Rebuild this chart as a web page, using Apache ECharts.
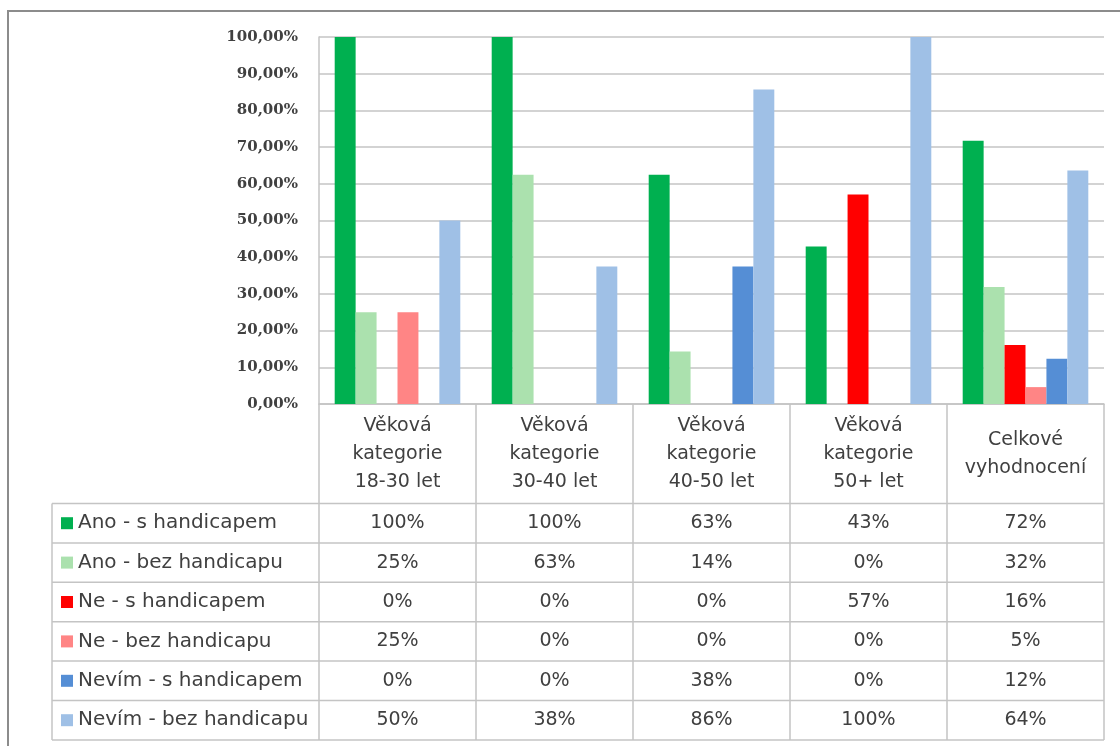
<!DOCTYPE html>
<html>
<head>
<meta charset="utf-8">
<script src="https://cdn.jsdelivr.net/npm/echarts@6/dist/echarts.min.js"></script>
<style>
  html, body { margin: 0; background: #fff; }
  #chart { width: 1120px; height: 746px; }
</style>
</head>
<body>
<div id="chart"></div>
<script>
// data
const categories = [
  "Věková\nkategorie\n18-30 let",
  "Věková\nkategorie\n30-40 let",
  "Věková\nkategorie\n40-50 let",
  "Věková\nkategorie\n50+ let",
  "Celkové\nvyhodnocení",
];
const seriesNames = [
  "Ano - s handicapem",
  "Ano - bez handicapu",
  "Ne - s handicapem",
  "Ne - bez handicapu",
  "Nevím - s handicapem",
  "Nevím - bez handicapu",
];
const anoS = [1.0, 1.0, 0.625, 0.429, 0.717];
const anoBez = [0.25, 0.625, 0.143, 0, 0.319];
const neS = [0, 0, 0, 0.571, 0.161];
const neBez = [0.25, 0, 0, 0, 0.046];
const nevimS = [0, 0, 0.375, 0, 0.123];
const nevimBez = [0.5, 0.375, 0.857, 1.0, 0.636];
const yTicks = [0, 0.1, 0.2, 0.3, 0.4, 0.5, 0.6, 0.7, 0.8, 0.9, 1.0];

const allSeries = [anoS, anoBez, neS, neBez, nevimS, nevimBez];
const colors = ["#00b050", "#abe1ae", "#ff0000", "#ff8585", "#558ed5", "#9fc0e6"];

// layout
const GRID_L = 319, GRID_R = 1104, GRID_T = 37, GRID_B = 404;
const TABLE_L = 52, ROW_TOP = 503.5, ROW_H = 39.4;
const lineColor = "#c4c4c4";
const textColor = "#404040";
const tableFont = "DejaVu Sans";

const chart = echarts.init(document.getElementById("chart"));

const pct = (v) => Math.round(v * 100) + "%";

// one extra x axis per table row, carrying the value labels
const rowAxes = allSeries.map((arr, i) => ({
  type: "category",
  gridIndex: 0,
  position: "bottom",
  offset: ROW_TOP + ROW_H * (i + 0.5) - GRID_B,
  data: arr.map(pct),
  axisLine: { show: false },
  axisTick: { show: false },
  axisLabel: {
    interval: 0,
    margin: 0,
    verticalAlign: "middle",
    fontFamily: tableFont,
    fontSize: 19,
    color: textColor,
  },
}));

const hLines = [];
for (let k = 0; k <= seriesNames.length; k++) {
  const y = ROW_TOP + k * ROW_H;
  hLines.push({
    type: "line",
    shape: { x1: TABLE_L, y1: y, x2: GRID_R, y2: y },
    style: { stroke: lineColor, lineWidth: 1.5 },
  });
}

chart.setOption({
  backgroundColor: "#fff",
  animation: false,
  color: colors,
  grid: {
    left: GRID_L,
    top: GRID_T,
    width: GRID_R - GRID_L,
    height: GRID_B - GRID_T,
    containLabel: false,
  },
  legend: {
    orient: "vertical",
    left: TABLE_L + 9,
    top: ROW_TOP,
    padding: 0,
    itemGap: 0,
    itemWidth: 12,
    itemHeight: 12,
    icon: "rect",
    selectedMode: false,
    data: seriesNames,
    textStyle: {
      fontFamily: tableFont,
      fontSize: 20,
      lineHeight: ROW_H,
      color: textColor,
    },
  },
  xAxis: [
    {
      type: "category",
      data: categories,
      axisLine: { lineStyle: { color: lineColor, width: 1.5 } },
      axisTick: {
        show: true,
        interval: 0,
        length: ROW_TOP + ROW_H * seriesNames.length - GRID_B,
        lineStyle: { color: lineColor, width: 1.5 },
      },
      axisLabel: {
        interval: 0,
        margin: 50,
        verticalAlign: "middle",
        lineHeight: 28,
        fontFamily: tableFont,
        fontSize: 19,
        color: textColor,
      },
    },
    ...rowAxes,
  ],
  yAxis: {
    type: "value",
    min: yTicks[0],
    max: yTicks[yTicks.length - 1],
    interval: 0.1,
    axisLine: { show: true, lineStyle: { color: lineColor, width: 1.5 } },
    axisTick: { show: false },
    splitLine: { lineStyle: { color: lineColor, width: 1.5 } },
    axisLabel: {
      margin: 21,
      fontFamily: "DejaVu Serif",
      fontWeight: "bold",
      fontSize: 15,
      color: textColor,
      formatter: (v) => (v * 100).toFixed(2).replace(".", ",") + "%",
    },
  },
  series: allSeries.map((arr, i) => ({
    name: seriesNames[i],
    type: "bar",
    barGap: "0%",
    barCategoryGap: "20%",
    data: arr,
  })),
  graphic: [
    {
      type: "rect",
      shape: { x: 8, y: 11, width: 1140, height: 760 },
      style: { fill: "none", stroke: "#8c8c8c", lineWidth: 2 },
      silent: true,
    },
    ...hLines,
    {
      type: "line",
      shape: { x1: TABLE_L, y1: ROW_TOP, x2: TABLE_L, y2: ROW_TOP + ROW_H * seriesNames.length },
      style: { stroke: lineColor, lineWidth: 1.5 },
    },
  ],
});
</script>
</body>
</html>
